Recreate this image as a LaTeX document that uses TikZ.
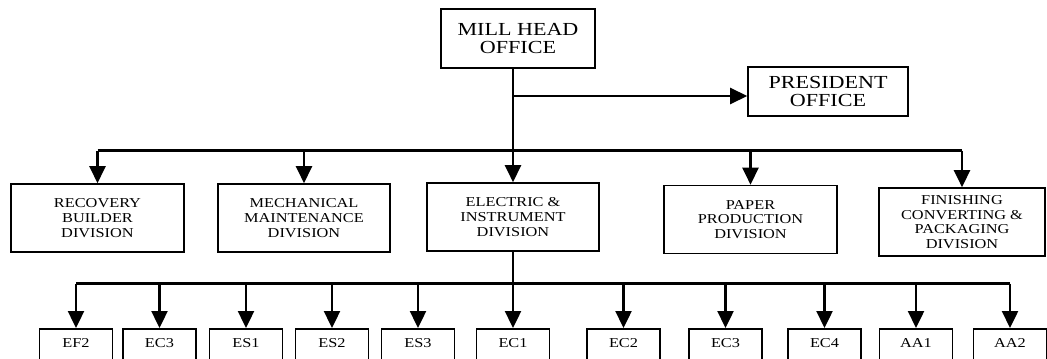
\documentclass[tikz,border=0pt]{standalone}
\usepackage{fontspec}
\setmainfont[FakeStretch=1.2]{Liberation Serif}
\usetikzlibrary{arrows.meta,positioning}

\begin{document}
\begin{tikzpicture}[
  x=0.5pt, y=-0.5pt,
  headbox/.style={draw, line width=0.8pt, align=center, inner sep=0pt, font=\fontsize{9.2}{9}\selectfont},
  divbox/.style={draw, line width=0.8pt, align=center, inner sep=0pt, minimum height=34pt, font=\fontsize{6.8}{7.3}\selectfont},
  unitbox/.style={draw, line width=0.8pt, anchor=north, minimum width=36.5pt, inner sep=2pt, text height=7.25pt, text depth=15pt, font=\fontsize{6.8}{8}\selectfont},
  link/.style={line width=1.2pt},
  arr/.style={line width=1.2pt, -{Triangle[length=8.5pt, width=8pt]}}
]
  \useasboundingbox (0,0) rectangle (1047,358);

  % top level
  \node[headbox, minimum width=77pt, minimum height=29.5pt] (mill) at (518,38.5) {MILL HEAD\\OFFICE};
  \node[headbox, minimum width=80pt, minimum height=24.5pt] (pres) at (828,91.5) {PRESIDENT\\OFFICE};

  % divisions
  \node[divbox, minimum width=86.5pt] (rec) at (97.5,218) {RECOVERY\\BUILDER\\DIVISION};
  \node[divbox, minimum width=86pt] (mech) at (304,218) {MECHANICAL\\MAINTENANCE\\DIVISION};
  \node[divbox, minimum width=86pt] (elec) at (513,217) {ELECTRIC \&\\INSTRUMENT\\DIVISION};
  \node[divbox, minimum width=86.5pt] (paper) at (750.5,219.5) {PAPER\\PRODUCTION\\DIVISION};
  \node[divbox, minimum width=83pt] (fin) at (962,222) {FINISHING\\CONVERTING \&\\PACKAGING\\DIVISION};

  % units
  \node[unitbox] (ef2) at (76,328) {EF2};
  \node[unitbox] (ec3a) at (159.5,328) {EC3};
  \node[unitbox] (es1) at (246,328) {ES1};
  \node[unitbox] (es2) at (332,328) {ES2};
  \node[unitbox] (es3) at (418,328) {ES3};
  \node[unitbox] (ec1) at (513,328) {EC1};
  \node[unitbox] (ec2) at (623.5,328) {EC2};
  \node[unitbox] (ec3b) at (725.5,328) {EC3};
  \node[unitbox] (ec4) at (824.5,328) {EC4};
  \node[unitbox] (aa1) at (916,328) {AA1};
  \node[unitbox] (aa2) at (1010,328) {AA2};

  \coordinate (tap) at (513,96);
  \coordinate (hub) at (513,150.5);
  \coordinate (lowhub) at (513,283.5);

  % mill head to president and divisions
  \draw[link] (mill.south -| hub) -- (hub);
  \draw[arr] (tap) -- (pres.west |- tap);
  \draw[link] (rec.north |- hub) -- (fin.north |- hub);
  \draw[arr] (rec.north |- hub) -- (rec.north);
  \draw[arr] (mech.north |- hub) -- (mech.north);
  \draw[arr] (hub) -- (elec.north);
  \draw[arr] (paper.north |- hub) -- (paper.north);
  \draw[arr] (fin.north |- hub) -- (fin.north);

  % electric division to units
  \draw[link] (elec.south) -- (lowhub);
  \draw[link] (ef2.north |- lowhub) -- (aa2.north |- lowhub);
  \draw[arr] (ef2.north |- lowhub) -- (ef2.north);
  \draw[arr] (ec3a.north |- lowhub) -- (ec3a.north);
  \draw[arr] (es1.north |- lowhub) -- (es1.north);
  \draw[arr] (es2.north |- lowhub) -- (es2.north);
  \draw[arr] (es3.north |- lowhub) -- (es3.north);
  \draw[arr] (lowhub) -- (ec1.north);
  \draw[arr] (ec2.north |- lowhub) -- (ec2.north);
  \draw[arr] (ec3b.north |- lowhub) -- (ec3b.north);
  \draw[arr] (ec4.north |- lowhub) -- (ec4.north);
  \draw[arr] (aa1.north |- lowhub) -- (aa1.north);
  \draw[arr] (aa2.north |- lowhub) -- (aa2.north);
\end{tikzpicture}
\end{document}
